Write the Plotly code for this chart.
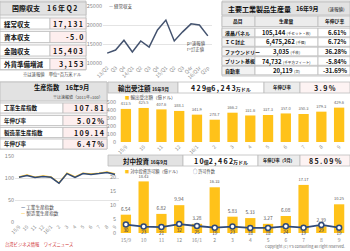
import plotly.graph_objects as go

W, H = 350, 251
FONT = "Noto Sans CJK JP"

# ---------------- data ----------------
bop_title = "国際収支"
bop_period = "16年Q2"
bop_labels = ["経常収支", "資本収支", "金融収支", "外貨準備増減"]
bop_values = ["17,131", "-5.0", "15,403", "3,153"]
bop_note = "※は速報値　単位=百万米ドル"

ca_quarters = ["13/Q2", "Q3", "Q4", "14/Q1", "Q2", "Q3", "Q4", "15/Q1", "Q2", "Q3", "Q4r", "16/Q1r", "Q2p"]
ca_values = [12600, 13400, 16000, 12900, 15800, 14200, 18700, 21300, 15800, 18200, 20300, 20000, 17131]
ca_ticks = [10000, 15000, 20000, 25000]

prod_title = "主要工業製品生産量"
prod_period = "16年9月"
prod_headers = ["品目", "生産量", "年伸び率"]
prod_items = ["液晶パネル", "ＩＣ封止", "ファウンドリー", "プリント基板", "自動車"]
prod_volume = ["105,144", "6,475,262", "3,035", "74,732", "20,119"]
prod_units = ["(千セット・枚)", "(千個)", "(千枚)", "(千平方フィート)", "(台)"]
prod_growth = ["6.61%", "6.72%", "36.28%", "-5.84%", "-31.69%"]

ip_labels = ["工業生産指数", "年伸び率", "製造業生産指数", "年伸び率"]
ip_values = ["107.81", "5.02%", "109.14", "6.47%"]

months = ["15/9", "10", "11", "12", "16/1", "2", "3", "4", "5", "6", "7", "8", "9"]
ind_index = [101.5, 105.5, 101, 103.5, 101.5, 88, 110, 101.5, 110, 108, 110, 112.5, 107.81]
mfg_index = [102.5, 106.5, 102, 104.5, 102.5, 88.5, 111, 102.5, 111, 109, 111, 113.5, 109.14]
ip_ticks = [0, 50, 100, 150]

export_orders = [413.5, 425.5, 407.6, 388.1, 341.9, 278.7, 366.2, 331.6, 337.3, 357.0, 350.3, 379.3, 429.6]
eo_ticks = [0, 100, 200, 300, 400, 500]
invest_amount = [6.54, 18.43, 6.82, 9.94, 3.28, 16.33, 5.83, 5.33, 3.27, 6.08, 17.17, 2.39, 10.25]
invest_count = [30, 23, 21, 32, 25, 19, 23, 18, 18, 24, 19, 29, 19]
inv_ticks = [0, 5, 10, 15, 20]

NAVY = "#2f4a7a"
SLATE = "#44536f"
YELLOW = "#FFC21A"
PINK = "#fdeeee"
GRAY = "#e2e2e2"
BORDER = "#bdbdbd"

qx = list(range(len(ca_quarters)))
mx = list(range(len(months)))


def px(x):
    return x / W


def py(y):
    return 1 - y / H


def sp(s):
    return "\u2009".join(s)


shapes = []
annotations = []


def box(x0, y0, x1, y1, fill, line=BORDER, w=0.8):
    shapes.append(dict(type="rect", xref="paper", yref="paper",
                       x0=px(x0), x1=px(x1), y0=py(y1), y1=py(y0),
                       fillcolor=fill, line=dict(color=line, width=w), layer="below"))


def text(x, y, s, size=7, color="#111", anchor="center", bold=False):
    if bold:
        s = "<b>" + s + "</b>"
    annotations.append(dict(xref="paper", yref="paper", x=px(x), y=py(y), text=s,
                            showarrow=False, xanchor=anchor, yanchor="middle",
                            borderpad=0, font=dict(size=size, color=color, family=FONT)))


# ---------- top-left table ----------
box(0, 1, 86, 70, "#f3f3f3")
box(0, 2, 86, 15, GRAY)
text(44, 8.5, "<b>" + bop_title + "</b>　<b>" + sp(bop_period) + "</b>", 7)
for i, (lab, val) in enumerate(zip(bop_labels, bop_values)):
    yc = 23.5 + 13.5 * i
    box(0, yc - 5.5, 50, yc + 5.5, "#ffffff")
    box(50, yc - 5.5, 86, yc + 5.5, PINK)
    text(3, yc, lab, 6.5, anchor="left", bold=True)
    text(84, yc, sp(val), 7, anchor="right", bold=True)
text(52, 74.5, bop_note, 4.3, "#444")

# ---------- top-right table ----------
box(222, 1, 350, 76, "#f3f3f3")
box(222, 2, 350, 15, GRAY)
text(227, 9, "<b>" + prod_title + "</b>", 7, anchor="left")
text(295, 9, "<b>" + prod_period + "</b>", 6, anchor="left")
text(327, 9.5, "(速報値)", 4.5, anchor="left")
cols = [(222, 255), (255, 318), (318, 350)]
for (c0, c1), h in zip(cols, prod_headers):
    box(c0, 16, c1, 26.5, "#ececec")
    text((c0 + c1) / 2, 21.3, h, 4.8, bold=True)
for i in range(len(prod_items)):
    yc = 32.5 + 9.5 * i
    box(222, yc - 4.3, 255, yc + 4.3, "#f2f2f2")
    box(255, yc - 4.3, 318, yc + 4.3, "#ffffff")
    box(318, yc - 4.3, 350, yc + 4.3, "#ffffff")
    text(224, yc, prod_items[i], 5, anchor="left", bold=True)
    text(286, yc, "<b>" + prod_volume[i] + "</b> <span style='font-size:3.6px'>" + prod_units[i] + "</span>", 6)
    text(348, yc, prod_growth[i], 6, anchor="right", bold=True)

# ---------- middle-left table ----------
box(0, 82, 107, 149, "#f3f3f3")
box(0, 82, 107, 101, GRAY)
text(62, 87.5, "<b>生産指数</b>　<b>16年9月</b>", 6.3)
text(78, 96.5, "※は速報値（2011年=100）", 4, "#444")
for i, (lab, val) in enumerate(zip(ip_labels, ip_values)):
    yc = [108, 120.5, 132.5, 144][i]
    box(0, yc - 5, 63, yc + 5, "#ffffff")
    box(63, yc - 5, 107, yc + 5, PINK)
    text(3, yc, lab, 5.5, anchor="left", bold=True)
    text(105, yc, sp(val), 7, anchor="right", bold=True)

# ---------- header strips ----------
box(108, 82, 178, 93, GRAY)
box(178, 82, 264, 93, "#ffffff")
box(264, 82, 300, 93, "#ececec")
box(300, 82, 350, 93, "#fdf3f3")
text(143, 87.5, "<b>輸出受注額</b> <span style='font-size:4.5px'><b>16年9月</b></span>", 6.5)
text(221, 87.5, "<b>" + sp("429") + "</b><span style='font-size:5px'><b>億</b></span><b>" + sp("6,243") + "</b><span style='font-size:5px'><b>万ドル</b></span>", 7)
text(282, 87.5, "年伸び率", 4.5, bold=True)
text(325, 87.5, sp("3.9%"), 7, bold=True)

box(108, 155, 183, 166, GRAY)
box(183, 155, 258, 166, "#ffffff")
box(258, 155, 300, 166, "#ececec")
box(300, 155, 350, 166, "#fdf3f3")
text(145, 160.5, "<b>対中投資</b> <span style='font-size:4.5px'><b>16年9月</b></span>", 6.5)
text(221, 160.5, "<b>" + sp("10") + "</b><span style='font-size:5px'><b>億</b></span><b>" + sp("2,462") + "</b><span style='font-size:5px'><b>万ドル</b></span>", 7)
text(279, 160.5, "年伸び率（9月）", 4.2, bold=True)
text(325, 160.5, sp("85.09%"), 7, bold=True)

# ---------- legends / notes ----------
text(108, 7, "<span style='color:%s'>—</span> 経常収支" % SLATE, 4.5, "#444", anchor="left")
text(186, 43.5, "p=速報値", 4.3, "#444", anchor="left")
text(186, 49.5, "r=訂正値", 4.3, "#444", anchor="left")
text(20, 207.5, "<span style='color:%s'><b>—</b></span> 工業生産指数" % NAVY, 4.6, "#444", anchor="left")
text(20, 213.5, "<span style='color:%s'><b>—</b></span> 製造業生産指数" % YELLOW, 4.6, "#444", anchor="left")
text(124, 97, "<span style='color:%s'>■</span> 輸出受注額（億ドル）" % YELLOW, 4.5, "#444", anchor="left")
text(124, 171.3, "<span style='color:%s'>■</span> 対中投資許可額（億ドル）" % YELLOW, 4.2, "#444", anchor="left")
text(192, 171.3, "<span style='color:%s'>○</span> 許可件数" % NAVY, 4.2, "#444", anchor="left")
text(4, 244.5, "台湾ビジネス情報　ワイズニュース", 4.3, "#d03030", anchor="left")
text(346, 246.5, "Copyright (C) Y's consulting all right reserved.", 3.8, "#666", anchor="right")

# ---------------- figure ----------------
fig = go.Figure()

fig.add_trace(go.Scatter(x=qx, y=ca_values, mode="lines",
                         line=dict(color=SLATE, width=1.5), xaxis="x", yaxis="y",
                         showlegend=False, hoverinfo="skip"))

fig.add_trace(go.Scatter(x=mx, y=mfg_index, mode="lines",
                         line=dict(color=YELLOW, width=1.5), xaxis="x2", yaxis="y2",
                         showlegend=False, hoverinfo="skip"))
fig.add_trace(go.Scatter(x=mx, y=ind_index, mode="lines",
                         line=dict(color=NAVY, width=1.5), xaxis="x2", yaxis="y2",
                         showlegend=False, hoverinfo="skip"))

fig.add_trace(go.Bar(x=mx, y=export_orders, marker=dict(color=YELLOW, line=dict(width=0)),
                     text=[f"{v:.1f}" for v in export_orders], textposition="outside",
                     textfont=dict(size=4.8, color="#666", family=FONT), cliponaxis=False,
                     xaxis="x3", yaxis="y3", showlegend=False, hoverinfo="skip"))

fig.add_trace(go.Bar(x=mx, y=invest_amount, marker=dict(color=YELLOW, line=dict(width=0)),
                     text=[f"{v:.2f}" for v in invest_amount], textposition="outside",
                     textfont=dict(size=4.8, color="#555", family=FONT), cliponaxis=False,
                     xaxis="x4", yaxis="y4", showlegend=False, hoverinfo="skip"))
fig.add_trace(go.Scatter(x=mx, y=invest_count, mode="lines+markers+text",
                         line=dict(color=NAVY, width=1.8),
                         marker=dict(size=5, color="white", line=dict(color=NAVY, width=1.5)),
                         text=[str(v) for v in invest_count], textposition="bottom center",
                         textfont=dict(size=4.5, color="#1f2f55", family=FONT), cliponaxis=False,
                         xaxis="x4", yaxis="y5", showlegend=False, hoverinfo="skip"))

tickfont = dict(size=5, color="#888", family=FONT)
ytickfont = dict(size=5.5, color="#888", family=FONT)


def xax(dom, labels, anchor, angle, standoff=0):
    d = dict(domain=[px(dom[0]), px(dom[1])], range=[-0.5, len(labels) - 0.5],
             tickmode="array", tickvals=list(range(len(labels))), ticktext=labels,
             tickangle=angle, tickfont=tickfont, showgrid=False, zeroline=False,
             showline=False, ticks="", anchor=anchor, automargin=False)
    if standoff:
        d["ticklabelstandoff"] = standoff
    return d


def yax(dom, ticks, anchor, grid):
    return dict(domain=[py(dom[1]), py(dom[0])], range=[ticks[0], ticks[-1]],
                tickmode="array", tickvals=ticks, ticktext=[str(t) for t in ticks],
                tickfont=ytickfont, showgrid=grid, gridcolor="#e4e4e4", gridwidth=0.8,
                zeroline=False, showline=False, anchor=anchor, side="left",
                showticklabels=True, ticks="", automargin=False)


fig.update_layout(
    template="none",
    width=W, height=H, autosize=False,
    margin=dict(l=0, r=0, t=0, b=0, pad=0),
    paper_bgcolor="white", plot_bgcolor="rgba(0,0,0,0)",
    font=dict(family=FONT),
    shapes=shapes, annotations=annotations,
    bargap=0.42,
    xaxis=xax((103, 212), ca_quarters, "y", -45),
    yaxis=yax((6, 63), ca_ticks, "x", True),
    xaxis2=xax((15, 119), months, "y2", -45),
    yaxis2=yax((156, 222), ip_ticks, "x2", True),
    xaxis3=xax((117, 348), months, "y3", -45),
    yaxis3=yax((102, 142), eo_ticks, "x3", False),
    xaxis4=xax((117, 348), months, "y4", 0, standoff=3),
    yaxis4=yax((177, 233), inv_ticks, "x4", False),
    yaxis5=dict(overlaying="y4", range=[0, 200], visible=False, anchor="x4"),
)

fig.write_html("out.html")
